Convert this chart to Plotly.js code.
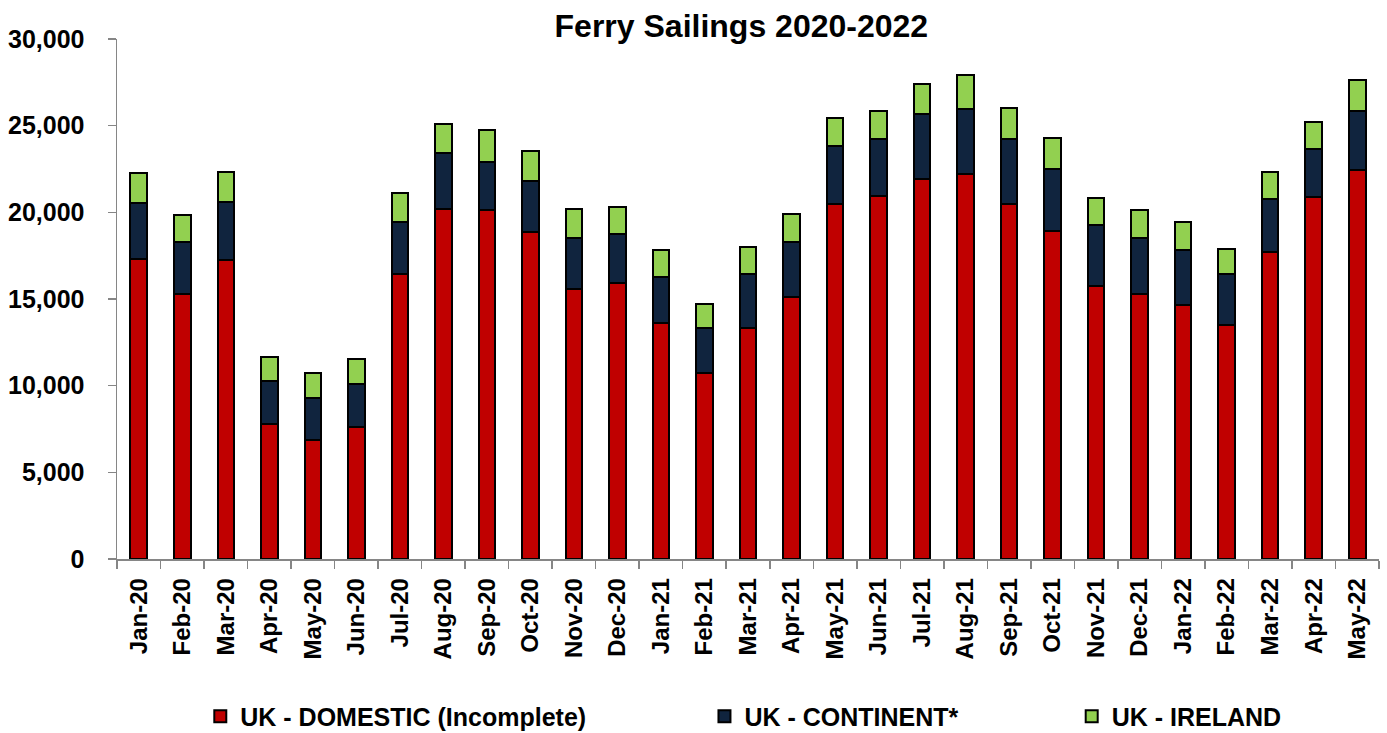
<!DOCTYPE html>
<html>
<head>
<meta charset="utf-8">
<script src="https://cdn.plot.ly/plotly-3.0.1.min.js"></script>
<style>
  html, body { margin: 0; padding: 0; background: #ffffff; }
  #chart { width: 1387px; height: 733px; }
</style>
</head>
<body>
<div id="chart"></div>
<script>
// ---- Data ----
const months = ["Jan-20","Feb-20","Mar-20","Apr-20","May-20","Jun-20","Jul-20","Aug-20","Sep-20","Oct-20","Nov-20","Dec-20",
                "Jan-21","Feb-21","Mar-21","Apr-21","May-21","Jun-21","Jul-21","Aug-21","Sep-21","Oct-21","Nov-21","Dec-21",
                "Jan-22","Feb-22","Mar-22","Apr-22","May-22"];

const ukDomestic = [17280,15300,17240,7760,6880,7610,16430,20210,20130,18860,15590,15900,
                    13620,10730,13350,15100,20480,20940,21950,22210,20500,18920,15740,15280,
                    14680,13490,17730,20880,22450];

const ukContinent = [3280,3010,3360,2530,2410,2490,3030,3200,2800,2950,2950,2870,
                     2640,2620,3070,3180,3320,3280,3700,3780,3720,3580,3530,3260,
                     3140,2970,3060,2760,3390];

const ukIreland = [1690,1560,1750,1390,1460,1460,1640,1680,1810,1730,1670,1560,
                   1560,1390,1600,1600,1630,1620,1770,1910,1790,1760,1540,1580,
                   1600,1440,1540,1600,1770];

const seriesNames = ["UK - DOMESTIC (Incomplete)", "UK - CONTINENT*", "UK - IRELAND"];
const yTickVals = [0, 5000, 10000, 15000, 20000, 25000, 30000];
const yTickText = ["0", "5,000", "10,000", "15,000", "20,000", "25,000", "30,000"];

// ---- Styles ----
const FONT = '"Liberation Sans", Arial, sans-serif';
const outline = { color: '#000000', width: 2 };
const legendFont = { family: FONT, size: 25, color: '#000000', weight: 700 };

const traces = [
  { type: 'bar', name: seriesNames[0], x: months, y: ukDomestic,
    marker: { color: '#C00000', line: outline }, legend: 'legend' },
  { type: 'bar', name: seriesNames[1], x: months, y: ukContinent,
    marker: { color: '#10243E', line: outline }, legend: 'legend2' },
  { type: 'bar', name: seriesNames[2], x: months, y: ukIreland,
    marker: { color: '#92D050', line: outline }, legend: 'legend3' }
];

const legendBase = {
  orientation: 'h', yanchor: 'middle', y: -0.303, xanchor: 'left',
  bgcolor: 'rgba(0,0,0,0)', borderwidth: 0, font: legendFont
};

const layout = {
  width: 1387, height: 733,
  paper_bgcolor: '#ffffff', plot_bgcolor: '#ffffff',
  margin: { l: 117, r: 8, t: 39, b: 174, autoexpand: false },
  barmode: 'stack',
  bargap: 0.62,
  showlegend: true,
  title: {
    text: 'Ferry Sailings 2020-2022',
    font: { family: FONT, size: 32, color: '#000000', weight: 700 },
    xref: 'container', x: 0.5345, xanchor: 'center',
    yref: 'container', y: 0.965, yanchor: 'middle'
  },
  xaxis: {
    type: 'category',
    tickangle: -90,
    tickfont: { family: FONT, size: 24, color: '#000000', weight: 700 },
    ticks: 'outside', tickson: 'boundaries', ticklen: 8, tickcolor: '#868686', tickwidth: 1.5,
    showline: true, linecolor: '#868686', linewidth: 1.5,
    showgrid: false, zeroline: false,
    ticklabelstandoff: 8,
    automargin: false
  },
  yaxis: {
    range: [0, 30000],
    tickvals: yTickVals, ticktext: yTickText,
    tickfont: { family: FONT, size: 25, color: '#000000', weight: 700 },
    ticks: 'outside', ticklen: 8, tickcolor: '#868686', tickwidth: 1.5,
    showline: true, linecolor: '#868686', linewidth: 1.5,
    showgrid: false, zeroline: false,
    ticklabelstandoff: 18,
    automargin: false
  },
  legend: Object.assign({}, legendBase, { x: 0.066 }),
  legend2: Object.assign({}, legendBase, { x: 0.4655 }),
  legend3: Object.assign({}, legendBase, { x: 0.7565 })
};

Plotly.newPlot('chart', traces, layout, { displayModeBar: false, staticPlot: true });
</script>
</body>
</html>
